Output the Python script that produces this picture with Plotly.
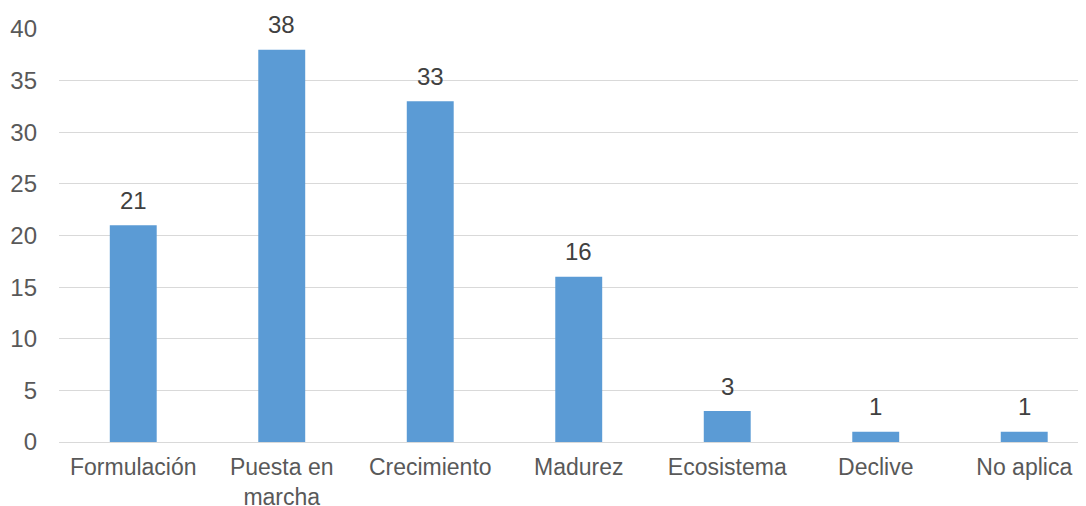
import plotly.graph_objects as go

categories = ["Formulación", "Puesta en<br>marcha", "Crecimiento", "Madurez", "Ecosistema", "Declive", "No aplica"]
values = [21, 38, 33, 16, 3, 1, 1]

FONT = "Liberation Sans, Arial"

fig = go.Figure()
fig.add_trace(go.Bar(
    x=categories, y=values,
    marker=dict(color="#5B9BD5", line=dict(width=0)),
    hoverinfo="x+y",
))
for c, v in zip(categories, values):
    fig.add_annotation(x=c, y=v, text=str(v), showarrow=False, yanchor="middle",
                       yshift=25, font=dict(family=FONT, size=24, color="#404040"))

# page body has an 8px default margin, so the figure is sized to fit the window
fig.update_layout(
    width=1078, height=498,
    margin=dict(l=51, r=0, t=21, b=64),
    paper_bgcolor="white", plot_bgcolor="white",
    bargap=0.684,
    showlegend=False,
    font=dict(family=FONT, size=24, color="#595959"),
)
fig.update_xaxes(showgrid=False, showline=False, ticks="", automargin=False,
                 range=[-0.5, 6.416],
                 tickfont=dict(family=FONT, size=23, color="#595959"), ticklabelstandoff=9)
fig.update_yaxes(range=[0, 40], dtick=5, showgrid=True, gridcolor="#D9D9D9", gridwidth=1,
                 zeroline=True, zerolinecolor="#D9D9D9", zerolinewidth=1, showline=False,
                 automargin=False,
                 tickfont=dict(family=FONT, size=24, color="#595959"), ticklabelstandoff=21)
fig.write_html("out.html")
